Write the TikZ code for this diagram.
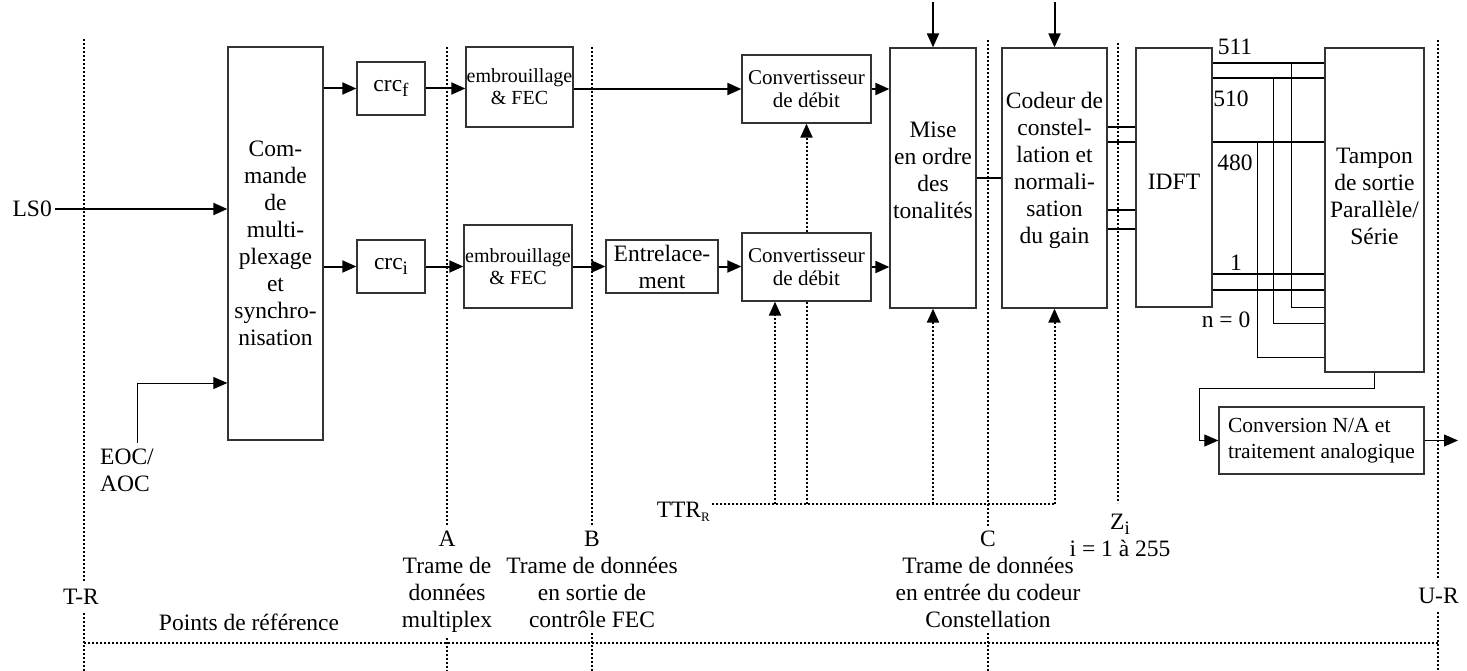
\documentclass[tikz,border=0pt]{standalone}
\usepackage{fontspec}
\setmainfont{Liberation Serif}
\usetikzlibrary{arrows.meta}
\newcommand{\sbs}[1]{\raisebox{-5pt}{\fontsize{19}{19}\selectfont #1}}

\begin{document}
\begin{tikzpicture}[x=1pt, y=-1pt,
  txt/.style={font=\fontsize{23.5}{27}\selectfont, align=center, inner sep=0pt},
  blok/.style={txt, draw=black!80, line width=1.3pt, fill=white},
  embtxt/.style={font=\fontsize{20}{22}\selectfont},
  convtxt/.style={font=\fontsize{21}{23}\selectfont},
  reflabel/.style={txt, inner sep=5pt},
  arr/.style={line width=2pt, -{Triangle[length=14pt, width=12pt]}},
  thinarr/.style={line width=1pt, -{Triangle[length=14pt, width=12pt]}},
  dotline/.style={line width=2pt, dash pattern=on 2pt off 2pt},
  dotarr/.style={dotline, -{Triangle[length=14pt, width=12pt]}},
  bus/.style={line width=2pt},
  wire/.style={line width=1pt}]
  \useasboundingbox (0,0) rectangle (1467,671);

  % Blocs
  \node[blok, minimum width=95pt, minimum height=393pt] (mux) at (275.5,243.5) {Com-\\mande\\de\\multi-\\plexage\\et\\synchro-\\nisation};
  \node[blok, minimum width=68pt, minimum height=53pt] (crcF) at (391,88.5) {crc\sbs{f}};
  \node[blok, minimum width=68pt, minimum height=53pt] (crcI) at (391,266.5) {crc\sbs{i}};
  \node[blok, embtxt, minimum width=107pt, minimum height=80pt] (embF) at (519.5,87) {embrouillage\\\& FEC};
  \node[blok, embtxt, minimum width=108pt, minimum height=83pt] (embI) at (518,266.5) {embrouillage\\\& FEC};
  \node[blok, minimum width=112pt, minimum height=53pt] (entr) at (662,266.5) {Entrelace-\\ment};
  \node[blok, convtxt, minimum width=129pt, minimum height=68pt] (debF) at (806.5,89) {Convertisseur\\de débit};
  \node[blok, convtxt, minimum width=129pt, minimum height=68pt] (debI) at (806.5,267) {Convertisseur\\de débit};
  \node[blok, minimum width=86pt, minimum height=260pt] (tons) at (933,178) {};
  \node[txt] (tonsTxt) at (933,170) {Mise\\en ordre\\des\\tonalités};
  \node[blok, minimum width=105pt, minimum height=260pt] (qam) at (1054.5,178) {};
  \node[txt] (qamTxt) at (1054.5,170) {Codeur de\\constel-\\lation et\\normali-\\sation\\du gain};
  \node[blok, minimum width=76pt, minimum height=259pt] (idft) at (1174,177.5) {};
  \node[txt] (idftTxt) at (1174,182) {IDFT};
  \node[blok, minimum width=99pt, minimum height=324pt] (tampon) at (1374.5,210) {};
  \node[txt] (tamponTxt) at (1374.5,196) {Tampon\\de sortie\\Parallèle/\\Série};
  \node[blok, font=\fontsize{21.5}{26.5}\selectfont, align=left, minimum width=205pt, minimum height=67pt] (cna) at (1321.5,440.5) {Conversion N/A et\\traitement analogique};

  % Points de reference
  \node[txt, inner sep=8pt] (trLab) at (81,597) {T-R};
  \coordinate (trTop) at (84,39);
  \draw[dotline] (trTop) -- (trTop |- trLab.north);
  \draw[dotline] (trTop |- trLab.south) -- (trTop |- 0,671);
  \node[reflabel, anchor=north] (aLab) at (447,526) {A\\Trame de\\données\\multiplex};
  \coordinate (aTop) at (447,47);
  \draw[dotline] (aTop) -- (aLab.north);
  \draw[dotline] (aLab.south) -- (aTop |- 0,671);
  \node[reflabel, anchor=north] (bLab) at (592,526) {B\\Trame de données\\en sortie de\\contrôle FEC};
  \coordinate (bTop) at (592,47);
  \draw[dotline] (bTop) -- (bLab.north);
  \draw[dotline] (bLab.south) -- (bTop |- 0,671);
  \node[reflabel, anchor=north] (cLab) at (988,526) {C\\Trame de données\\en entrée du codeur\\Constellation};
  \coordinate (cTop) at (988,40);
  \draw[dotline] (cTop) -- (cLab.north);
  \draw[dotline] (cLab.south) -- (cTop |- 0,671);
  \node[txt, anchor=north, inner sep=11pt] (zLab) at (1120,503) {Z\sbs{i}\\i = 1 à 255};
  \coordinate (zTop) at (1118,43);
  \draw[dotline] (zTop) -- (zTop |- zLab.north);
  \node[txt, inner sep=8pt] (urLab) at (1438.5,596) {U-R};
  \coordinate (urTop) at (1438,40);
  \draw[dotline] (urTop) -- (urTop |- urLab.north);
  \draw[dotline] (urTop |- urLab.south) -- (urTop |- 0,671);
  \draw[dotline] (trTop |- 0,643) -- (urTop |- 0,643);
  \node[txt] (refPts) at (249,622) {Points de référence};

  % Entrees
  \node[txt, anchor=east, inner sep=3pt] (ls0) at (55,209) {LS0};
  \draw[arr] (ls0.east) -- (ls0.east -| mux.west);
  \node[txt, align=left, anchor=north west, inner sep=6pt] (eoc) at (94,443) {EOC/\\AOC};
  \coordinate (eocBend) at (137,383);
  \draw[thinarr] (eocBend |- eoc.north) -- (eocBend) -- (eocBend -| mux.west);
  \coordinate (tonsIn) at (933,2);
  \draw[arr] (tonsIn) -- (tons.north);
  \coordinate (qamIn) at (1054.5,2);
  \draw[arr] (qamIn) -- (qam.north);

  % Chaine
  \draw[arr] (mux.east |- crcF.west) -- (crcF.west);
  \draw[arr] (mux.east |- crcI.west) -- (crcI.west);
  \draw[arr] (crcF.east) -- (crcF.east -| embF.west);
  \draw[arr] (crcI.east) -- (crcI.east -| embI.west);
  \draw[arr] (embF.east |- debF.west) -- (debF.west);
  \draw[arr] (embI.east |- entr.west) -- (entr.west);
  \draw[arr] (entr.east) -- (entr.east -| debI.west);
  \draw[arr] (debF.east) -- (debF.east -| tons.west);
  \draw[arr] (debI.east) -- (debI.east -| tons.west);
  \draw[bus] (tons.east |- qam.west) -- (qam.west);
  \foreach \y in {127,142,210,229}
    \draw[bus] (qam.east |- 0,\y) -- (idft.west |- 0,\y);
  \foreach \y in {63,78,142,274,290}
    \draw[bus] (idft.east |- 0,\y) -- (tampon.west |- 0,\y);
  \foreach \x/\ya/\yb in {1291/63/307, 1273/78/323, 1257/142/357}
    \draw[wire] (\x,\ya) -- (\x,\yb) -- (tampon.west |- 0,\yb);
  \node[txt] (n511) at (1235,47) {511};
  \node[txt] (n510) at (1231,99) {510};
  \node[txt] (n480) at (1235,163) {480};
  \node[txt] (n1) at (1236,263) {1};
  \node[txt] (n0) at (1226,320) {n = 0};

  % Sortie
  \coordinate (cnaBend) at (1199,388);
  \draw[thinarr] (tampon.south) -- (tampon.south |- cnaBend) -- (cnaBend) -- (cnaBend |- cna.west) -- (cna.west);
  \coordinate (cnaOut) at (1458,440.5);
  \draw[thinarr] (cna.east) -- (cnaOut);

  % TTR
  \node[txt, anchor=base east, inner sep=2pt] (ttr) at (712,517) {TTR\raisebox{-4pt}{\fontsize{13}{13}\selectfont R}};
  \coordinate (ttrEnd) at (qam.south |- 0,504);
  \draw[dotline] (ttr.east |- ttrEnd) -- (ttrEnd);
  \draw[dotarr] (ttrEnd) -- (qam.south);
  \draw[dotarr] (tons.south |- ttrEnd) -- (tons.south);
  \draw[dotline] (debI.south |- ttrEnd) -- (debI.south);
  \draw[dotarr] (debI.north) -- (debF.south);
  \coordinate (ttrTap) at (775,504);
  \draw[dotarr] (ttrTap) -- (ttrTap |- debI.south);
\end{tikzpicture}
\end{document}
